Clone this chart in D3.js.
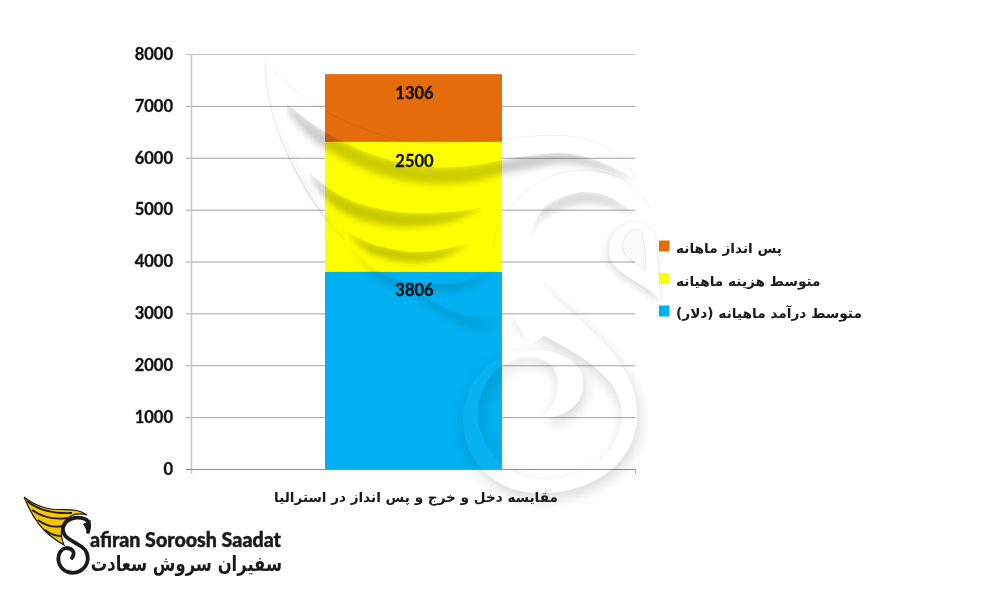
<!DOCTYPE html>
<html><head><meta charset="utf-8">
<script src="https://cdn.jsdelivr.net/npm/d3@7"></script>
<style>
html,body{margin:0;padding:0;background:#fff}
svg{display:block}
.fa{font-family:"DejaVu Sans",sans-serif;font-weight:700;fill:#1a1a1a}
.num{font-family:Lato,"Open Sans",sans-serif;font-weight:700;fill:#111;stroke:#111;stroke-width:.3}
</style></head><body>
<svg id="c" width="1000" height="600" viewBox="0 0 1000 600"></svg>
<script>
const categories = ["مقایسه دخل و خرج و پس انداز در استرالیا"];
const seriesNames = ["متوسط درآمد ماهیانه (دلار)", "متوسط هزینه ماهیانه", "پس انداز ماهانه"];
const seriesValues = [3806, 2500, 1306];
const seriesColors = ["#00b0f0", "#ffff00", "#e46c0a"];
const yTicks = [0,1000,2000,3000,4000,5000,6000,7000,8000];
const legendOrder = [2,1,0];

const svg = d3.select("#c");
const defs = svg.append("defs");
const f = defs.append("filter").attr("id","sh").attr("x","-30%").attr("y","-30%").attr("width","160%").attr("height","170%");
f.append("feDropShadow").attr("dx",2).attr("dy",6).attr("stdDeviation",7).attr("flood-color","#000").attr("flood-opacity",.16);
const fh = defs.append("filter").attr("id","shHead").attr("x","-40%").attr("y","-40%").attr("width","180%").attr("height","180%");
fh.append("feDropShadow").attr("dx",-1).attr("dy",3).attr("stdDeviation",4).attr("flood-color","#000").attr("flood-opacity",.16);
const fb = defs.append("filter").attr("id","blur").attr("x","-10%").attr("y","-60%").attr("width","120%").attr("height","220%");
fb.append("feGaussianBlur").attr("stdDeviation",3.5);

const y = d3.scaleLinear().domain([0,8000]).range([469,54]);
const row = {}; seriesNames.forEach((n,i)=>row[n]=seriesValues[i]);
const stacked = d3.stack().keys(seriesNames)([row]);

// grid
svg.append("g").selectAll("line").data(yTicks.slice(1)).join("line")
  .attr("x1",186).attr("x2",635).attr("y1",d=>y(d)+.5).attr("y2",d=>y(d)+.5)
  .attr("stroke",d=>d===8000?"#c4c4c4":"#a3a3a3").attr("stroke-width",1);

// bars
const bx = 325, bw = 177;
svg.append("g").selectAll("rect").data(stacked).join("rect")
  .attr("x",bx).attr("width",bw)
  .attr("y",d=>y(d[0][1])).attr("height",d=>y(d[0][0])-y(d[0][1]))
  .attr("fill",(d,i)=>seriesColors[i]);

// axis lines
svg.append("line").attr("x1",191.5).attr("x2",191.5).attr("y1",54).attr("y2",474).attr("stroke","#c8c8c8").attr("stroke-width",1.6);
svg.append("line").attr("x1",186).attr("x2",635).attr("y1",469.5).attr("y2",469.5).attr("stroke","#8f8f8f");
svg.append("line").attr("x1",635.5).attr("x2",635.5).attr("y1",469).attr("y2",474).attr("stroke","#b0b0b0");

// watermark (decorative): spiral + tapered shadows under the feather edges
const wm = svg.append("g").style("mix-blend-mode","multiply");
const spiral = "M535,280 C555,305 637,350 637,413 C637,465 590,493 540,493 C495,493 463,460 463,420 C463,385 490,350 530,350 C565,350 583,365 583,383 C583,405 565,417 545,417 C550,410 558,400 558,383 C558,365 545,357 527,357 C500,357 478,385 478,413 C478,450 510,480 545,480 C590,480 622,450 622,413 C622,370 560,345 515,320 Z";
wm.append("path").attr("d",spiral).attr("fill","#fff").attr("filter","url(#sh)");
// neck hides the top of the spiral shadow
wm.append("path").attr("d","M493,250 C497,205 540,170 583,170 C620,170 650,195 655,240 L640,230 C620,200 600,192 583,192 C550,192 527,215 527,240 C527,270 545,290 575,316 L530,345 C510,310 490,280 493,250 Z")
  .attr("fill","#fff");
wm.append("path").attr("d","M493,250 C497,205 540,170 583,170 C615,170 640,185 650,210").attr("fill","none").attr("stroke","#efefef").attr("stroke-width",1);
wm.append("path").attr("d","M265,63 C300,100 340,125 400,140 C450,150 520,132 570,136 C600,139 625,155 638,180").attr("fill","none").attr("stroke","#f0f0f0").attr("stroke-width",1);
wm.append("path").attr("d","M265,63 C266,100 275,130 290,160 C305,190 325,222 345,240").attr("fill","none").attr("stroke","#ececec").attr("stroke-width",1.2);
// head
wm.append("path").attr("d","M632,222 C612,228 605,245 612,262 C625,280 650,285 660,300 L655,240 C652,230 645,222 632,222 Z")
  .attr("fill","#fff").attr("filter","url(#shHead)");
wm.append("path").attr("d","M634,229 C622,236 618,248 628,258 C634,262 642,268 645,270 C646,255 645,238 640,230 Z")
  .attr("fill","#fafafa").attr("stroke","#e6e6e6").attr("stroke-width",1);

const edges = [
 {pts:[[287,103],[310,122],[350,145],[390,160],[433,167],[470,166],[502,160],[535,155],[567,153],[603,163],[637,180]],d:20,o:.2,p:.2},
 {pts:[[310,173],[330,189],[350,200],[385,210],[417,213],[450,212],[483,207]],d:20,o:.22,p:.3},
 {pts:[[348,232],[365,241],[383,247],[417,252],[445,249],[470,242]],d:15,o:.24,p:.4},
 {pts:[[345,240],[373,268],[400,280],[450,284],[480,276],[495,268]],d:12,o:.16,p:.6},
 {pts:[[401,280],[430,300],[465,315],[499,317]],d:10,o:.13,p:.5},
 {pts:[[452,322],[480,323],[501,325]],d:8,o:.1,p:.3},
 {pts:[[527,245],[540,212],[555,200],[583,192],[610,197],[635,214]],d:18,o:.15,p:.5},
 {pts:[[268,105],[285,150],[310,200],[345,240]],d:-14,o:.07,p:.5}
];
const clipId = i=>"edgeClip"+i;
edges.forEach((e,i)=>{
  const n = e.pts.length-1, x0=e.pts[0][0], x1=e.pts[n][0];
  const taper = p=>{const t=(p[0]-x0)/(x1-x0);return Math.pow(Math.max(t,0.001),e.p)*Math.pow(1-t+0.001,0.6)*1.4;};
  const shade = d3.area().x(p=>p[0]).y0(p=>p[1]).y1(p=>p[1]+e.d*taper(p)).curve(d3.curveCatmullRom);
  const clip = d3.area().x(p=>p[0]).y0(p=>p[1]).y1(p=>p[1]+(e.d>0?60:-60)).curve(d3.curveCatmullRom);
  defs.append("clipPath").attr("id",clipId(i)).append("path").attr("d",clip(e.pts));
  wm.append("g").attr("clip-path",`url(#${clipId(i)})`).append("path")
    .attr("d",shade(e.pts)).attr("fill","#000").attr("opacity",e.o).attr("filter","url(#blur)");
});

// faint lightening of the spiral on the blue bar
svg.append("clipPath").attr("id","barClip").append("rect").attr("x",bx).attr("y",y(7612)).attr("width",bw).attr("height",y(0)-y(7612));
svg.append("path").attr("d",spiral).attr("fill","#fff").attr("opacity",.03).attr("clip-path","url(#barClip)");

// tick labels
svg.append("g").selectAll("text").data(yTicks).join("text").attr("class","num")
  .attr("x",173).attr("y",d=>y(d)).attr("dy","0.35em").attr("text-anchor","end")
  .attr("font-size",16.5).text(d=>d);

// data labels
svg.append("g").selectAll("text").data(stacked).join("text").attr("class","num")
  .attr("x",bx+bw/2+1).attr("y",d=>y(d[0][1])+19).attr("dy","0.35em").attr("text-anchor","middle")
  .attr("font-size",16.5).text(d=>d[0][1]-d[0][0]);

// category label
svg.append("text").attr("class","fa").attr("x",416).attr("y",502).attr("text-anchor","middle")
  .attr("direction","rtl").attr("font-size",13.6).text(categories[0]);

// legend
const lg = svg.append("g").selectAll("g").data(legendOrder).join("g");
const ly = d3.scalePoint().domain(legendOrder).range([246,311]);
lg.append("rect").attr("x",659).attr("y",d=>ly(d)-5.5).attr("width",10.5).attr("height",11).attr("fill",d=>seriesColors[d]);
lg.append("text").attr("class","fa").attr("x",676).attr("y",d=>ly(d)+7).attr("text-anchor","end").attr("direction","rtl")
  .attr("font-size",13.7).text(d=>seriesNames[d]);

// logo
const logo = svg.append("g");
logo.append("path").attr("d","M24,497 C29,509 36,522 44,530 C50,536 57,541 64,545 C60,535 60,525 68,518 C74,513 80,513 87,515 C75,506 60,512 46,508 C38,506 30,502 24,497 Z")
  .attr("fill","#f7c600").attr("stroke","#1a1a1a").attr("stroke-width",1.2);
logo.append("g").selectAll("path").data([
 "M27,501 C38,510 52,514 72,513",
 "M32,510 C42,517 54,520 68,518",
 "M38,520 C46,526 54,528 63,526",
 "M45,530 C50,534 56,536 61,536"
]).join("path").attr("d",d=>d).attr("fill","none").attr("stroke","#1a1a1a").attr("stroke-width",1.8);
logo.append("path").attr("d","M72,558 C76,552 72,548 66,548 C60,549 57,556 59,563 C62,572 72,575 80,571 C90,565 90,553 82,547 C72,540 62,538 63,528 C65,518 77,516 85,519 C89,521 90,526 88,532")
  .attr("fill","none").attr("stroke","#1a1a1a").attr("stroke-width",3.8).attr("stroke-linecap","round");
logo.append("path").attr("d","M83,524 L88,533 L91,520 Z").attr("fill","#1a1a1a");
logo.append("text").attr("x",90).attr("y",547).attr("font-family","Lato,sans-serif").attr("font-weight",900)
  .attr("font-size",20).attr("textLength",191).attr("lengthAdjust","spacingAndGlyphs").attr("fill","#1a1a1a").attr("stroke","#1a1a1a").attr("stroke-width",.4).text("afiran Soroosh Saadat");
logo.append("text").attr("transform","translate(282,571) scale(.78,1)").attr("font-family","DejaVu Sans,sans-serif").attr("font-weight",700)
  .attr("font-size",21).attr("text-anchor","start").attr("direction","rtl").attr("fill","#1a1a1a").text("سفیران سروش سعادت");
</script>
</body></html>
